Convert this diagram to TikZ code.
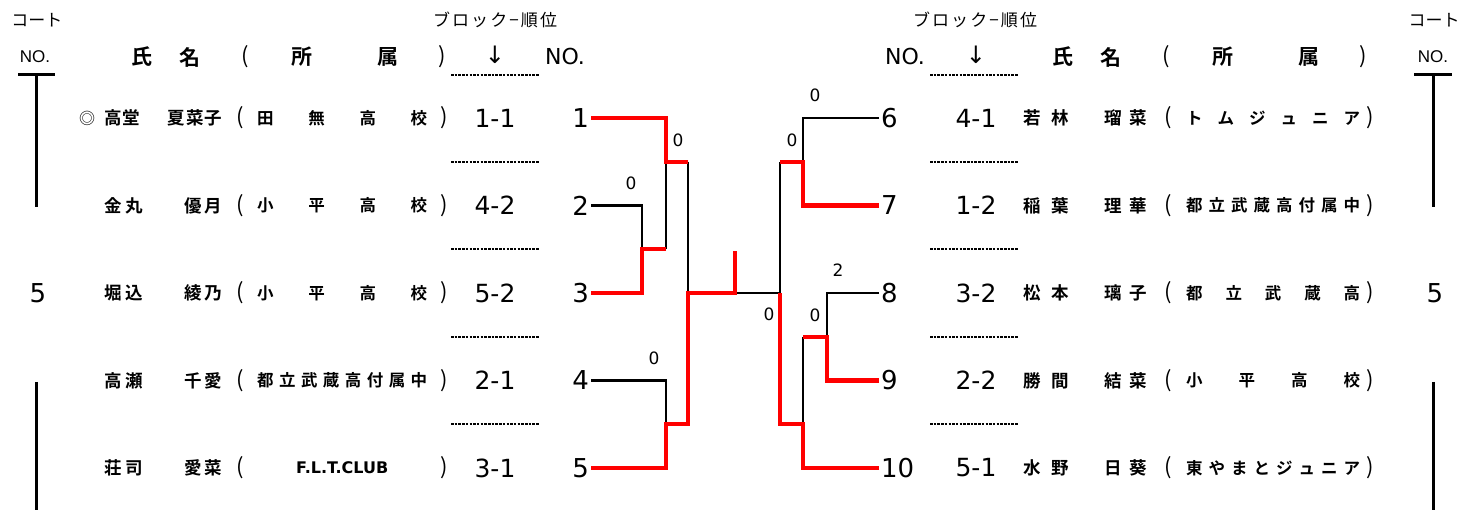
\documentclass[tikz,border=0pt]{standalone}
\usepackage{fontspec}
\setmainfont{DejaVu Sans}
\newfontfamily\jp{Noto Sans CJK JP}[BoldFont={Noto Sans CJK JP Bold}]
\newfontfamily\narrow{Liberation Sans}
\newcommand\fs[1]{\fontsize{#1}{#1}\selectfont}
\newcommand\nm[3][118pt]{\makebox[#1]{#2\hfill #3}}
\newcommand\sch[2][170pt]{\makebox[#1]{#2}}
\tikzset{
  win/.style={red, line width=4.5pt},
  lose/.style={black, line width=2.5pt},
  num/.style={font=\fs{26}, inner sep=2pt},
  score/.style={font=\fs{17}, inner sep=0pt},
  rank/.style={font=\fs{25}, inner sep=0pt},
  pname/.style={anchor=west, inner sep=0pt, font=\jp\bfseries\fs{17.5}},
  school/.style={anchor=west, inner sep=0pt, font=\jp\bfseries\fs{16.5}},
  paren/.style={inner sep=0pt, font=\jp\fs{22}},
  head/.style={inner sep=0pt, font=\jp\bfseries\fs{21}},
  smallhead/.style={inner sep=0pt, font=\jp\fs{17}},
  dots/.style={line width=2.5pt, dash pattern=on 2.5pt off 1.2pt},
  court/.style={line width=3pt},
}
\begin{document}
\begin{tikzpicture}[x=1pt,y=-1pt]
\useasboundingbox (0,0) rectangle (1462,510);
% Headers
\node[smallhead] (ctL) at (37,20) {\makebox[51pt]{コ\hfill ー\hfill ト}};
\node[smallhead] (ctR) at (1434,20) {\makebox[51pt]{コ\hfill ー\hfill ト}};
\node[smallhead] (blL) at (495,20) {\makebox[124pt]{ブ\hfill ロ\hfill ッ\hfill ク\hfill −\hfill 順\hfill 位}};
\node[smallhead] (blR) at (975,20) {\makebox[124pt]{ブ\hfill ロ\hfill ッ\hfill ク\hfill −\hfill 順\hfill 位}};
\node[inner sep=0pt, font=\narrow\fs{17}] (noL) at (35,57) {NO.};
\node[inner sep=0pt, font=\narrow\fs{17}] (noR) at (1433,57) {NO.};
\node[inner sep=0pt, font=\fs{22}] (nmL) at (565,56) {NO.};
\node[inner sep=0pt, font=\fs{22}] (nmR) at (905,56) {NO.};
\node[inner sep=0pt, font=\fs{24}] (arL) at (495,55) {↓};
\node[inner sep=0pt, font=\fs{24}] (arR) at (976,55) {↓};
\foreach \d/\s in {0/L,921/R}{
  \node[head] (h1\s) at (142+\d,57) {氏};
  \node[head] (h2\s) at (190+\d,57) {名};
  \node[paren] (h3\s) at (245+\d,57) {(};
  \node[head] (h4\s) at (302+\d,57) {所};
  \node[head] (h5\s) at (388+\d,57) {属};
  \node[paren] (h6\s) at (442+\d,57) {)};
}
% Court columns
\draw[court] (18,75) -- (55,75) (36,75) -- (36,207) (36,382) -- (36,510);
\draw[court] (1414,75) -- (1452,75) (1433,75) -- (1433,207) (1433,382) -- (1433,510);
\node[font=\fs{26}, inner sep=0pt] (cL) at (38,293) {5};
\node[font=\fs{26}, inner sep=0pt] (cR) at (1435,293) {5};
% Dotted rules
\foreach \y in {75,162,249,337,424}{
  \draw[dots] (451,\y) -- (539,\y);
  \draw[dots] (930,\y) -- (1018,\y);
}
% Rows: number and block rank
\foreach \i/\y/\k in {1/118/1-1, 2/205.5/4-2, 3/293/5-2, 4/380.5/2-1, 5/468/3-1}{
  \node[rank] (k\i) at (495,\y) {\k};
  \node[num, anchor=east] (n\i) at (591,\y) {\i};
  \node[paren] (lp\i) at (240,\y) {(};
  \node[paren] (rp\i) at (444,\y) {)};
}
\foreach \i/\y/\k in {6/118/4-1, 7/205.5/1-2, 8/293/3-2, 9/380.5/2-2, 10/468/5-1}{
  \node[rank] (k\i) at (976,\y) {\k};
  \node[num, anchor=west] (n\i) at (879,\y) {\i};
  \node[paren] (lp\i) at (1168,\y) {(};
  \node[paren] (rp\i) at (1370,\y) {)};
}
% Names left
\node[inner sep=0pt, font=\jp\fs{16}] (seed) at (87,118) {◎};
\node[pname] (p1) at (104,118) {\nm{高\kern1pt 堂}{夏\kern1pt 菜\kern1pt 子}};
\node[pname] (p2) at (104,205.5) {\nm{金\kern4pt 丸}{優\kern3pt 月}};
\node[pname] (p3) at (104,293) {\nm{堀\kern4pt 込}{綾\kern3pt 乃}};
\node[pname] (p4) at (104,380.5) {\nm{高\kern4pt 瀬}{千\kern3pt 愛}};
\node[pname] (p5) at (104,468) {\nm{荘\kern4pt 司}{愛\kern3pt 菜}};
\node[school] (s1) at (257,118) {\sch{田\hfill 無\hfill 高\hfill 校}};
\node[school] (s2) at (257,205.5) {\sch{小\hfill 平\hfill 高\hfill 校}};
\node[school] (s3) at (257,293) {\sch{小\hfill 平\hfill 高\hfill 校}};
\node[school] (s4) at (257,380.5) {\sch{都\hfill 立\hfill 武\hfill 蔵\hfill 高\hfill 付\hfill 属\hfill 中}};
\node[school, font=\bfseries\fs{16}] (s5) at (257,468) {\sch{F.L.T.CLUB}};
% Names right
\node[pname] (p6) at (1023,118) {\nm[124pt]{若\kern11pt 林}{瑠\kern8pt 菜}};
\node[pname] (p7) at (1023,205.5) {\nm[124pt]{稲\kern11pt 葉}{理\kern8pt 華}};
\node[pname] (p8) at (1023,293) {\nm[124pt]{松\kern11pt 本}{璃\kern8pt 子}};
\node[pname] (p9) at (1023,380.5) {\nm[124pt]{勝\kern11pt 間}{結\kern8pt 菜}};
\node[pname] (p10) at (1023,468) {\nm[124pt]{水\kern11pt 野}{日\kern8pt 葵}};
\node[school] (s6) at (1186,118) {\sch[174pt]{ト\hfill ム\hfill ジ\hfill ュ\hfill ニ\hfill ア}};
\node[school] (s7) at (1186,205.5) {\sch[174pt]{都\hfill 立\hfill 武\hfill 蔵\hfill 高\hfill 付\hfill 属\hfill 中}};
\node[school] (s8) at (1186,293) {\sch[174pt]{都\hfill 立\hfill 武\hfill 蔵\hfill 高}};
\node[school] (s9) at (1186,380.5) {\sch[174pt]{小\hfill 平\hfill 高\hfill 校}};
\node[school] (s10) at (1186,468) {\sch[174pt]{東\hfill や\hfill ま\hfill と\hfill ジ\hfill ュ\hfill ニ\hfill ア}};
% Bracket joints
\coordinate (ja) at (642,249);
\coordinate (jb) at (666,249);
\coordinate (ta) at (666,162);
\coordinate (tb) at (688,162);
\coordinate (jc) at (666,424);
\coordinate (tc) at (688,424);
\coordinate (sl) at (688,293);
\coordinate (tk) at (735,293);
\coordinate (tk2) at (735,251);
\coordinate (sr) at (780,293);
\coordinate (rt) at (780,162);
\coordinate (rd) at (803,162);
\coordinate (re) at (827,337);
\coordinate (re2) at (803,337);
\coordinate (rf) at (803,424);
\coordinate (rb) at (780,424);
% Lost lines
\draw[lose] (n2.east) -| (ja);
\draw[lose] (jb) -- (ta);
\draw[lose] (n4.east) -| (jc);
\draw[lose] (tb) -- (sl);
\draw[lose] (tk) -- (sr) -- (rt);
\draw[lose] (n6.west) -| (rd);
\draw[lose] (n8.west) -| (re);
\draw[lose] (re2) -- (rf);
% Winners
\draw[win] (n3.east) -| (ja) -- (jb);
\draw[win] (n1.east) -| (ta) -- (tb);
\draw[win] (n5.east) -| (jc) -- (tc) -- (sl) -- (tk) -- (tk2);
\draw[win] (n7.west) -| (rd) -- (rt);
\draw[win] (n9.west) -| (re) -- (re2);
\draw[win] (n10.west) -| (rf) -- (rb) -- (sr);
% Scores
\node[score] (g1) at (678,140) {0};
\node[score] (g2) at (631,183) {0};
\node[score] (g3) at (654,358) {0};
\node[score] (g4) at (769,314) {0};
\node[score] (g5) at (815,95) {0};
\node[score] (g6) at (792,140) {0};
\node[score] (g7) at (838,270) {2};
\node[score] (g8) at (815,315) {0};
\end{tikzpicture}
\end{document}
